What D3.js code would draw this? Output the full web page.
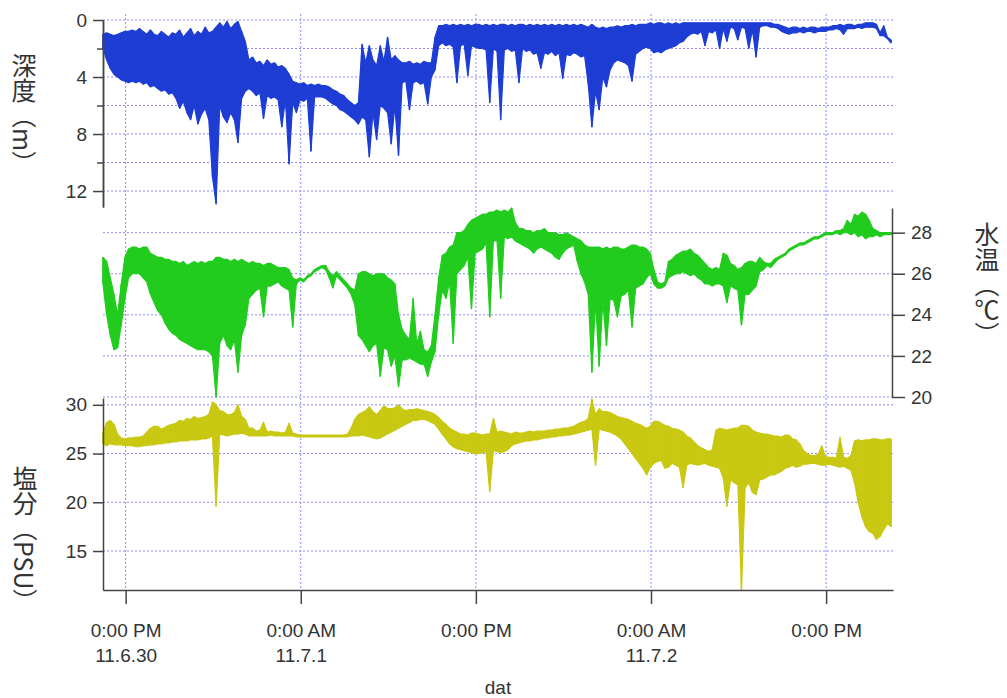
<!DOCTYPE html>
<html>
<head>
<meta charset="utf-8">
<script src="https://cdn.jsdelivr.net/npm/d3@7"></script>
<style>
  html, body { margin: 0; padding: 0; background: #fff; }
  svg { display: block; }
  .axis text { font-family: "Liberation Sans", Arial, sans-serif; font-size: 19px; fill: #333; }
  .axis path, .axis line { stroke: #444; stroke-width: 1.5; }
  .title { font-family: "Noto Sans CJK JP", sans-serif; font-size: 25px; fill: #333; writing-mode: vertical-rl; }
</style>
</head>
<body>
<svg id="chart" width="1007" height="698"></svg>
<script>
// Logger record, reduced to the minimum and maximum of each 15-minute block,
// first block starting 2011-06-30 10:27
const startTime = new Date(2011, 5, 30, 10, 27);
const stepMinutes = 15;

// 深度 (m): shallowest and deepest reading per block
const depthMin = [
  1.0, 0.9, 1.0, 1.1, 1.0, 0.9, 0.8, 0.8, 0.7, 0.8,
  0.6, 0.8, 1.0, 0.7, 1.0, 1.1, 0.8, 1.0, 1.2, 0.9,
  1.0, 0.7, 1.2, 0.9, 0.6, 1.1, 0.8, 1.0, 0.5, 0.9,
  0.8, 0.5, 0.2, 0.5, 0.1, 0.6, 0.3, 0.1, 0.8, 1.5,
  2.8, 2.6, 3.0, 2.9, 3.2, 2.8, 3.1, 3.0, 3.3, 3.2,
  3.4, 3.8, 4.3, 4.4, 4.5, 4.4, 4.6, 4.5, 4.6, 4.5,
  4.6, 4.6, 4.7, 4.9, 5.0, 5.2, 5.3, 5.6, 5.8, 6.0,
  5.8, 1.7, 3.0, 1.8, 2.8, 3.2, 1.8, 2.9, 1.2, 2.8,
  2.5, 2.8, 3.0, 3.0, 2.9, 3.1, 3.0, 3.1, 2.9, 3.0,
  3.0, 1.2, 0.4, 0.4, 0.3, 0.4, 0.3, 0.4, 0.3, 0.4,
  0.3, 0.4, 0.3, 0.3, 0.4, 0.3, 0.4, 0.3, 0.4, 0.3,
  0.3, 0.4, 0.3, 0.4, 0.3, 0.3, 0.4, 0.3, 0.4, 0.3,
  0.4, 0.3, 0.4, 0.3, 0.4, 0.3, 0.4, 0.3, 0.4, 0.3,
  0.4, 0.3, 0.4, 0.5, 0.3, 0.5, 0.6, 0.5, 0.6, 0.5,
  0.5, 0.4, 0.5, 0.4, 0.4, 0.3, 0.4, 0.3, 0.3, 0.3,
  0.2, 0.3, 0.2, 0.2, 0.3, 0.2, 0.3, 0.2, 0.3, 0.2,
  0.2, 0.2, 0.2, 0.2, 0.2, 0.2, 0.2, 0.2, 0.2, 0.2,
  0.2, 0.2, 0.2, 0.2, 0.2, 0.2, 0.2, 0.2, 0.2, 0.2,
  0.2, 0.2, 0.2, 0.2, 0.3, 0.3, 0.4, 0.5, 0.6, 0.5,
  0.5, 0.6, 0.5, 0.6, 0.5, 0.5, 0.6, 0.5, 0.5, 0.5,
  0.4, 0.4, 0.3, 0.4, 0.3, 0.3, 0.4, 0.3, 0.3, 0.2,
  0.2, 0.2, 0.3, 0.9, 0.4, 1.2, 1.4
];
const depthMax = [
  2.0, 2.8, 3.4, 3.8, 4.0, 4.2, 4.3, 4.4, 4.3, 4.4,
  4.3, 4.5, 4.4, 4.7, 4.6, 4.8, 5.0, 4.9, 5.2, 5.1,
  5.5, 6.2, 5.7, 6.5, 7.0, 6.0, 7.3, 6.6, 6.2, 7.0,
  11.0, 12.9, 6.0, 6.8, 7.2, 6.5, 7.0, 8.6, 5.5, 5.0,
  4.8, 5.0, 5.3, 5.1, 6.9, 5.3, 5.5, 5.4, 5.6, 7.5,
  5.6, 10.1, 5.8, 6.5, 5.6, 5.7, 5.5, 9.2, 5.4, 5.4,
  5.4, 5.5, 5.7, 5.9, 6.0, 6.3, 6.4, 6.6, 6.8, 7.0,
  7.3, 6.8, 7.0, 9.6, 6.5, 8.4, 6.0, 6.2, 6.5, 8.7,
  6.0, 9.5, 4.4, 4.3, 6.3, 4.4, 4.3, 4.5, 4.4, 5.9,
  4.0, 3.5, 1.8, 1.6, 1.8, 1.7, 1.9, 4.4, 1.8, 1.7,
  3.9, 1.8, 1.9, 2.0, 2.0, 2.1, 5.8, 2.0, 2.2, 7.0,
  2.1, 2.0, 2.2, 2.1, 4.4, 2.0, 2.2, 2.1, 2.4, 2.3,
  3.4, 2.3, 2.4, 2.2, 2.5, 2.3, 4.1, 2.4, 2.5, 2.3,
  2.4, 2.6, 2.5, 4.5, 7.5, 5.0, 6.3, 4.0, 4.7, 3.5,
  3.0, 2.8, 2.9, 3.0, 3.2, 4.3, 2.4, 2.2, 2.0, 1.9,
  2.0, 2.3, 2.2, 2.3, 2.1, 2.0, 1.9, 1.8, 1.6, 1.5,
  1.2, 1.0, 0.9, 1.0, 0.8, 1.8, 0.8, 0.9, 0.7, 2.0,
  0.6, 1.5, 0.5, 0.6, 1.4, 0.5, 0.6, 2.0, 0.7, 2.6,
  0.5, 0.4, 0.4, 0.5, 0.5, 0.6, 0.8, 0.9, 1.0, 0.9,
  0.9, 0.8, 0.9, 0.8, 0.8, 0.9, 0.8, 0.8, 0.8, 0.7,
  0.7, 0.6, 0.7, 1.0, 0.6, 0.6, 0.6, 0.5, 0.6, 0.5,
  0.5, 0.5, 0.6, 1.1, 1.1, 1.3, 1.6
];

// 水温 (℃): lowest and highest reading per block
const tempMin = [
  25.5, 24.0, 23.0, 22.3, 22.4, 23.5, 24.8, 25.8, 26.0, 26.0,
  26.0, 25.8, 25.6, 25.0, 24.6, 24.2, 24.0, 23.6, 23.3, 23.1,
  23.0, 22.8, 22.7, 22.6, 22.5, 22.4, 22.3, 22.3, 22.3, 22.2,
  22.0, 20.0, 22.6, 23.0, 22.5, 22.3, 22.8, 21.2, 23.0, 23.5,
  24.8, 25.0, 25.2, 25.3, 23.9, 25.4, 25.4, 25.5, 25.6, 25.4,
  25.3, 25.2, 23.4, 25.5, 25.7, 25.6, 25.8, 25.9, 26.1, 26.2,
  26.3, 26.2, 25.8, 25.3, 25.9, 25.7, 25.5, 25.3, 25.0, 24.5,
  23.0, 22.8, 22.5, 22.2, 22.5, 22.6, 21.0, 22.4, 22.3, 21.5,
  22.0, 20.5, 21.8, 21.8, 21.9, 21.8, 21.7, 21.6, 21.6, 21.0,
  21.7, 22.2, 24.0, 25.2, 24.8, 25.6, 22.6, 26.0, 26.2, 26.4,
  26.8, 24.3, 27.0, 27.1, 27.2, 27.5, 23.9, 27.6, 27.6, 24.8,
  27.8, 27.7, 27.8, 27.6, 27.5, 27.4, 27.3, 27.2, 27.0, 27.2,
  27.3, 27.2, 27.1, 27.0, 26.8, 26.7, 27.0, 27.2, 27.3, 27.4,
  26.6, 26.0, 25.6, 25.0, 21.2, 24.7, 21.5, 24.7, 22.5, 24.8,
  24.7, 23.9, 24.9, 25.0, 25.2, 23.4, 25.3, 25.4, 25.5, 25.8,
  26.0, 25.5, 25.3, 25.3, 25.4, 25.8, 25.9, 26.0, 26.0, 26.1,
  26.0, 25.9, 26.0, 25.8, 25.7, 25.5, 25.5, 25.4, 25.5, 25.5,
  25.4, 24.6, 25.4, 25.3, 25.2, 23.5, 25.0, 25.0, 25.2, 25.4,
  26.1, 26.2, 26.4, 26.3, 26.5, 26.7, 26.8, 26.9, 27.1, 27.2,
  27.3, 27.4, 27.4, 27.5, 27.6, 27.7, 27.7, 27.8, 27.9, 27.9,
  27.9, 28.0, 27.9, 28.0, 28.0, 27.9, 28.0, 27.8, 27.9, 27.7,
  27.8, 27.8, 27.9, 27.8, 27.9, 27.9, 27.9
];
const tempMax = [
  26.8, 26.6, 25.8, 25.0, 24.0, 25.5, 26.8, 27.2, 27.3, 27.3,
  27.2, 27.3, 27.3, 27.0, 26.9, 26.8, 26.8, 26.7, 26.7, 26.6,
  26.6, 26.5, 26.6, 26.4, 26.5, 26.6, 26.5, 26.6, 26.5, 26.6,
  26.6, 26.8, 26.8, 26.7, 26.7, 26.6, 26.7, 26.6, 26.7, 26.6,
  26.5, 26.6, 26.5, 26.5, 26.4, 26.5, 26.5, 26.4, 26.3, 26.3,
  26.3, 26.2, 25.8, 25.7, 25.8, 25.7, 25.9, 26.0, 26.2, 26.3,
  26.4, 26.4, 26.1, 25.9, 26.1, 25.9, 25.7, 25.5, 25.3, 25.2,
  26.0, 26.1, 26.1, 26.0, 25.9, 26.0, 26.0, 26.0, 25.8, 25.7,
  25.5, 24.0, 23.3, 23.0, 22.8, 24.8, 22.6, 23.2, 22.3, 22.2,
  22.5, 24.0, 25.8, 26.9, 27.0, 27.3, 27.4, 28.0, 28.0, 28.1,
  28.4, 28.6, 28.7, 28.8, 28.9, 28.9, 29.0, 29.0, 29.1, 29.0,
  29.1, 29.0, 29.2, 28.5, 28.2, 28.2, 28.1, 28.1, 28.0, 28.1,
  28.1, 28.2, 28.0, 28.0, 28.0, 27.9, 27.9, 28.0, 27.9, 27.8,
  27.7, 27.6, 27.4, 27.3, 27.3, 27.3, 27.3, 27.2, 27.3, 27.2,
  27.3, 27.3, 27.2, 27.2, 27.3, 27.4, 27.4, 27.3, 27.3, 27.2,
  27.0, 26.2, 25.6, 25.5, 25.6, 26.6, 26.7, 26.9, 27.0, 27.1,
  27.1, 27.2, 27.0, 26.9, 26.7, 26.5, 26.3, 26.2, 26.3, 26.2,
  27.0, 26.9, 26.5, 26.4, 26.2, 26.3, 26.5, 26.6, 26.6, 26.5,
  26.8, 26.6, 26.5, 26.5, 26.7, 26.8, 26.9, 27.0, 27.2, 27.3,
  27.4, 27.5, 27.5, 27.6, 27.7, 27.8, 27.8, 27.9, 28.0, 28.0,
  28.0, 28.1, 28.1, 28.2, 28.6, 28.4, 28.9, 28.8, 29.0, 28.9,
  28.6, 28.2, 28.1, 28.0, 28.0, 28.0, 28.0
];

// 塩分 (PSU): lowest and highest reading per block
const salMin = [
  26.0, 25.8, 26.0, 25.9, 25.9, 25.9, 25.8, 25.8, 25.8, 25.7,
  25.7, 25.8, 25.8, 25.9, 25.9, 26.0, 26.0, 26.1, 26.1, 26.2,
  26.2, 26.3, 26.3, 26.3, 26.4, 26.4, 26.4, 26.5, 26.5, 26.6,
  26.8, 19.6, 27.0, 26.9, 26.8, 26.9, 27.0, 27.0, 27.1, 27.0,
  26.8, 26.8, 26.8, 26.8, 26.8, 26.8, 26.9, 26.8, 26.8, 26.8,
  26.8, 26.8, 26.8, 26.7, 26.7, 26.7, 26.7, 26.7, 26.7, 26.7,
  26.7, 26.7, 26.7, 26.7, 26.7, 26.7, 26.7, 26.7, 26.8, 26.8,
  26.8, 26.9, 26.8, 26.7, 26.6, 26.5, 26.6, 26.8, 27.0, 27.2,
  27.4, 27.6, 27.8, 28.0, 28.2, 28.4, 28.4, 28.5, 28.5, 28.4,
  28.2, 28.0, 27.5, 27.0, 26.5, 26.0, 25.7, 25.5, 25.4, 25.3,
  25.2, 25.1, 25.0, 25.0, 25.1, 25.2, 21.1, 25.3, 25.2, 25.1,
  25.2, 25.4, 25.8, 26.0, 26.1, 26.2, 26.3, 26.3, 26.4, 26.4,
  26.5, 26.6, 26.6, 26.7, 26.7, 26.8, 26.8, 26.9, 26.9, 27.0,
  27.1, 27.2, 27.3, 27.4, 27.5, 23.8, 27.5, 27.4, 27.3, 27.2,
  27.0, 26.8, 26.5, 26.0, 25.5, 25.0, 24.5, 24.0, 23.5, 22.8,
  23.6, 24.0, 24.2, 24.3, 23.5, 23.6, 24.0, 23.8, 23.6, 21.5,
  23.8, 24.0, 23.9, 23.8, 23.9, 24.0, 23.8, 23.7, 23.6, 23.5,
  22.5, 19.6, 22.3, 22.0, 21.8, 11.0, 21.5, 22.0, 21.0, 20.8,
  22.3, 22.4, 22.6, 22.8, 22.8, 23.0, 23.2, 23.5, 23.6, 23.8,
  23.6, 23.7, 23.9, 23.9, 24.0, 24.0, 23.9, 23.8, 23.8, 23.9,
  23.8, 23.7, 23.6, 23.7, 23.5, 23.3, 22.0, 20.0, 18.5, 17.5,
  17.0, 16.8, 16.2, 16.5, 17.2, 17.8, 17.5
];
const salMax = [
  27.2, 28.2, 28.4, 28.0, 27.0, 26.6, 26.5, 26.6, 26.6, 26.7,
  26.7, 26.8, 27.2, 27.6, 27.8, 27.8, 27.5, 27.7, 27.9, 28.0,
  28.1, 28.4, 28.3, 28.6, 28.5, 28.8, 28.6, 28.7, 28.8, 29.0,
  30.3, 30.0, 29.4, 29.3, 29.0, 29.0, 29.2, 30.0, 28.8, 28.5,
  27.6, 27.6, 27.3, 27.4, 28.2, 27.2, 27.3, 27.2, 27.2, 27.1,
  27.2, 28.1, 27.1, 27.0, 26.9, 26.9, 26.9, 26.9, 26.9, 26.9,
  26.9, 26.9, 26.9, 26.9, 26.9, 26.9, 26.9, 27.0, 27.6, 28.5,
  29.0, 29.2, 29.4, 29.8, 29.3, 29.0, 29.4, 29.9, 29.6, 29.6,
  29.7, 30.0, 29.6, 29.4, 29.5, 29.5, 29.6, 29.5, 29.4, 29.3,
  29.2, 29.0, 28.7, 28.3, 28.0, 27.6, 27.4, 27.2, 27.0, 27.0,
  26.9, 27.1, 27.1, 27.0, 26.9, 27.0, 27.0, 28.6, 27.2, 27.3,
  27.2, 27.1, 27.0, 27.2, 27.1, 27.1, 27.2, 27.3, 27.2, 27.3,
  27.3, 27.3, 27.4, 27.4, 27.5, 27.5, 27.6, 27.6, 27.7, 27.8,
  28.0, 28.2, 28.3, 28.6, 30.6, 29.0, 29.6, 29.3, 29.3, 29.2,
  29.0, 28.8, 28.7, 28.6, 28.5, 28.3, 28.1, 28.0, 27.8, 27.6,
  27.8, 28.3, 28.3, 28.1, 27.9, 27.8, 27.6, 27.5, 27.4, 27.2,
  26.8, 26.6, 26.2, 25.8, 25.6, 25.4, 25.2, 25.4, 27.4, 27.6,
  27.5, 27.4, 27.5, 27.6, 27.6, 27.9, 27.9, 27.8, 27.4, 27.2,
  27.1, 27.0, 27.0, 26.9, 26.8, 26.8, 26.7, 26.9, 26.9, 26.5,
  26.4, 26.0, 25.3, 25.0, 24.8, 24.8, 24.9, 25.8, 24.7, 24.6,
  24.6, 24.5, 26.7, 24.6, 24.5, 24.8, 26.3, 26.4, 26.3, 26.4,
  26.4, 26.5, 26.5, 26.4, 26.4, 26.5, 26.5
];

// Time axis ticks
const tickTimes = [
  new Date(2011, 5, 30, 12, 0),
  new Date(2011, 6, 1, 0, 0),
  new Date(2011, 6, 1, 12, 0),
  new Date(2011, 6, 2, 0, 0),
  new Date(2011, 6, 2, 12, 0)
];
const tickTimeText = ["0:00 PM", "0:00 AM", "0:00 PM", "0:00 AM", "0:00 PM"];
const tickDateText = ["11.6.30", "11.7.1", "", "11.7.2", ""];

// Value axis ticks
const depthTicks = [0, 4, 8, 12];
const depthMinorTicks = [2, 6, 10];
const depthGrid = [0, 2, 4, 6, 8, 10, 12];
const tempTicks = [20, 22, 24, 26, 28];
const salTicks = [15, 20, 25, 30];

const svg = d3.select("#chart");

const times = depthMin.map((_, i) => new Date(startTime.getTime() + i * stepMinutes * 60000));

const x = d3.scaleTime()
  .domain([new Date(2011, 5, 30, 10, 27), new Date(2011, 6, 2, 16, 35)])
  .range([103, 893]);

const yDepth = d3.scaleLinear().domain([0, 13.12]).range([20, 207]);
const yTemp = d3.scaleLinear().domain([20, 29.2]).range([397, 208]);
const ySal = d3.scaleLinear().domain([11, 30.7]).range([590, 398]);

const gridColor = "#8a8aff";
const grid = svg.append("g")
  .attr("stroke", gridColor)
  .attr("stroke-width", 1)
  .attr("stroke-dasharray", "2,2");

// vertical grid through all three panels
grid.append("g").selectAll("line").data(tickTimes).join("line")
  .attr("x1", d => x(d)).attr("x2", d => x(d))
  .attr("y1", 14).attr("y2", 590);

grid.append("g").selectAll("line").data(depthGrid).join("line")
  .attr("x1", 103).attr("x2", 893)
  .attr("y1", d => yDepth(d)).attr("y2", d => yDepth(d));

grid.append("g").selectAll("line").data(tempTicks).join("line")
  .attr("x1", 103).attr("x2", 892)
  .attr("y1", d => yTemp(d)).attr("y2", d => yTemp(d));

grid.append("g").selectAll("line").data(salTicks).join("line")
  .attr("x1", 103).attr("x2", 893)
  .attr("y1", d => ySal(d)).attr("y2", d => ySal(d));

// each series: band between block minimum and maximum, plus per-block range ticks
function drawSeries(lo, hi, yScale, color) {
  const rows = lo.map((v, i) => ({ t: times[i], lo: v, hi: hi[i] }));
  const area = d3.area()
    .x(d => x(d.t))
    .y0(d => yScale(d.lo))
    .y1(d => yScale(d.hi));
  const g = svg.append("g");
  g.append("path")
    .datum(rows)
    .attr("fill", color)
    .attr("stroke", color)
    .attr("stroke-width", 1.2)
    .attr("stroke-linejoin", "round")
    .attr("d", area);
  g.selectAll("line").data(rows).join("line")
    .attr("x1", d => x(d.t)).attr("x2", d => x(d.t))
    .attr("y1", d => yScale(d.lo)).attr("y2", d => yScale(d.hi))
    .attr("stroke", color)
    .attr("stroke-width", 1.4);
}
drawSeries(salMin, salMax, ySal, "#c9c812");
drawSeries(tempMin, tempMax, yTemp, "#22cc1e");
drawSeries(depthMin, depthMax, yDepth, "#1d3dd4");

// axes
svg.append("g").attr("class", "axis").attr("transform", "translate(103,0)")
  .call(d3.axisLeft(yDepth).tickValues(depthTicks).tickSize(10).tickSizeOuter(0).tickPadding(6));
svg.append("g").attr("class", "axis").attr("transform", "translate(103,0)")
  .call(d3.axisLeft(yDepth).tickValues(depthMinorTicks).tickSize(6).tickSizeOuter(0).tickFormat(""));

svg.append("g").attr("class", "axis").attr("transform", "translate(892,0)")
  .call(d3.axisRight(yTemp).tickValues(tempTicks).tickSize(13).tickSizeOuter(0).tickPadding(6));

svg.append("g").attr("class", "axis").attr("transform", "translate(103,0)")
  .call(d3.axisLeft(ySal).tickValues(salTicks).tickSize(10).tickSizeOuter(0).tickPadding(6));

const xAxis = svg.append("g").attr("class", "axis").attr("transform", "translate(0,590)")
  .call(d3.axisBottom(x).tickValues(tickTimes).tickSize(14).tickSizeOuter(0).tickFormat(""));

xAxis.selectAll(".tick").each(function(d, i) {
  const t = d3.select(this).append("text")
    .attr("text-anchor", "middle")
    .attr("fill", "#333");
  t.append("tspan").attr("x", 0).attr("y", 47).text(tickTimeText[i]);
  t.append("tspan").attr("x", 0).attr("y", 72).text(tickDateText[i]);
});

// axis titles
svg.append("text").attr("class", "title").attr("x", 24).attr("y", 53).text("深度（m）");
svg.append("text").attr("class", "title").attr("x", 987).attr("y", 222).text("水温（℃）");
svg.append("text").attr("class", "title").attr("x", 25).attr("y", 466).text("塩分（PSU）");

svg.append("text")
  .attr("x", 498).attr("y", 694)
  .attr("text-anchor", "middle")
  .attr("font-family", "Liberation Sans, Arial, sans-serif")
  .attr("font-size", 19)
  .attr("fill", "#333")
  .text("dat");
</script>
</body>
</html>
